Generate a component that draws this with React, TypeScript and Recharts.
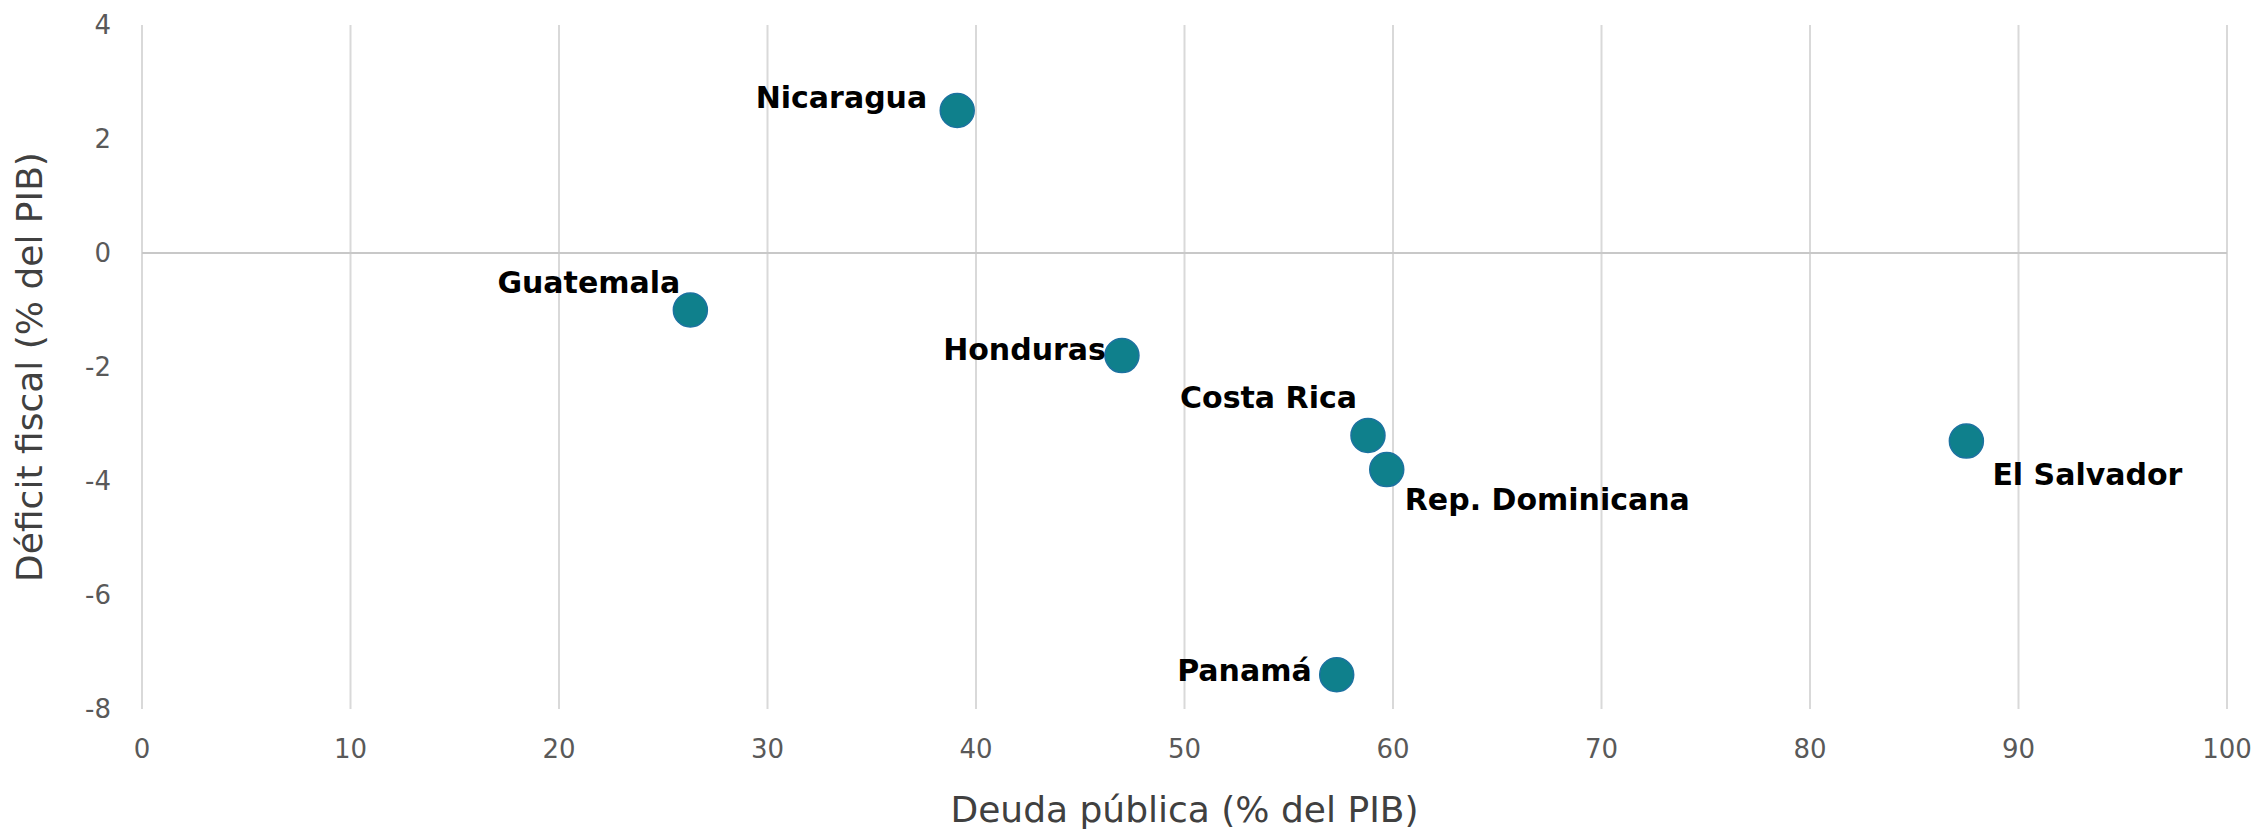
import { CartesianGrid, ReferenceLine, Scatter, ScatterChart, XAxis, YAxis } from "recharts";

const countries = ["Nicaragua", "Guatemala", "Honduras", "Costa Rica", "Rep. Dominicana", "El Salvador", "Panamá"];
const debt = [39.1, 26.3, 47.0, 58.8, 59.7, 87.5, 57.3];
const deficit = [2.5, -1.0, -1.8, -3.2, -3.8, -3.3, -7.4];
const xTicks = [0, 10, 20, 30, 40, 50, 60, 70, 80, 90, 100];
const yTicks = [-8, -6, -4, -2, 0, 2, 4];

// where each country's name sits relative to its dot
const labelPlacement: Record<string, { dx: number; dy: number; anchor: "start" | "end" }> = {
  Nicaragua: { dx: -30, dy: -13, anchor: "end" },
  Guatemala: { dx: -10, dy: -28, anchor: "end" },
  Honduras: { dx: -16, dy: -6, anchor: "end" },
  "Costa Rica": { dx: -11, dy: -38, anchor: "end" },
  "Rep. Dominicana": { dx: 18, dy: 30, anchor: "start" },
  "El Salvador": { dx: 26, dy: 33, anchor: "start" },
  Panamá: { dx: -25, dy: -4, anchor: "end" },
};

const points = countries.map((name, i) => ({ name, debt: debt[i], deficit: deficit[i] }));

const FONT = "'DejaVu Sans', sans-serif";
const GRAY = "#595959";

function Dot(props: any) {
  const { cx, cy, payload } = props;
  const p = labelPlacement[payload.name];
  return (
    <g>
      <circle cx={cx} cy={cy} r={17} fill="#0f808c" stroke="#1c72a0" strokeWidth={1.5} />
      <text
        x={cx + p.dx}
        y={cy + p.dy}
        textAnchor={p.anchor}
        dominantBaseline="central"
        fontFamily={FONT}
        fontWeight={700}
        fontSize={30}
        fill="#000"
      >
        {payload.name}
      </text>
    </g>
  );
}

export default function App() {
  return (
    <div style={{ position: "absolute", left: 0, top: 0, background: "#fff" }}>
      <ScatterChart width={2254} height={831} margin={{ top: 25, right: 27, bottom: 0, left: 0 }}>
        <CartesianGrid horizontal={false} stroke="#d9d9d9" strokeWidth={2} />
        <ReferenceLine y={0} stroke="#c8c8c8" strokeWidth={2} />
        <XAxis
          type="number"
          dataKey="debt"
          domain={[0, 100]}
          ticks={xTicks}
          height={122}
          axisLine={false}
          tickLine={false}
          tickMargin={25}
          tick={{ fontSize: 26, fill: GRAY, fontFamily: FONT }}
          label={{
            value: "Deuda pública (% del PIB)",
            position: "insideBottom",
            offset: 9,
            fontSize: 36,
            fill: "#404040",
            fontFamily: FONT,
          }}
        />
        <YAxis
          type="number"
          dataKey="deficit"
          domain={[-8, 4]}
          ticks={yTicks}
          width={142}
          axisLine={false}
          tickLine={false}
          tickMargin={25}
          tick={{ fontSize: 26, fill: GRAY, fontFamily: FONT }}
          label={{
            value: "Déficit fiscal (% del PIB)",
            angle: -90,
            position: "insideLeft",
            offset: 29,
            fontSize: 36,
            fill: "#404040",
            fontFamily: FONT,
            style: { textAnchor: "middle" },
          }}
        />
        <Scatter data={points} shape={<Dot />} isAnimationActive={false} />
      </ScatterChart>
    </div>
  );
}
